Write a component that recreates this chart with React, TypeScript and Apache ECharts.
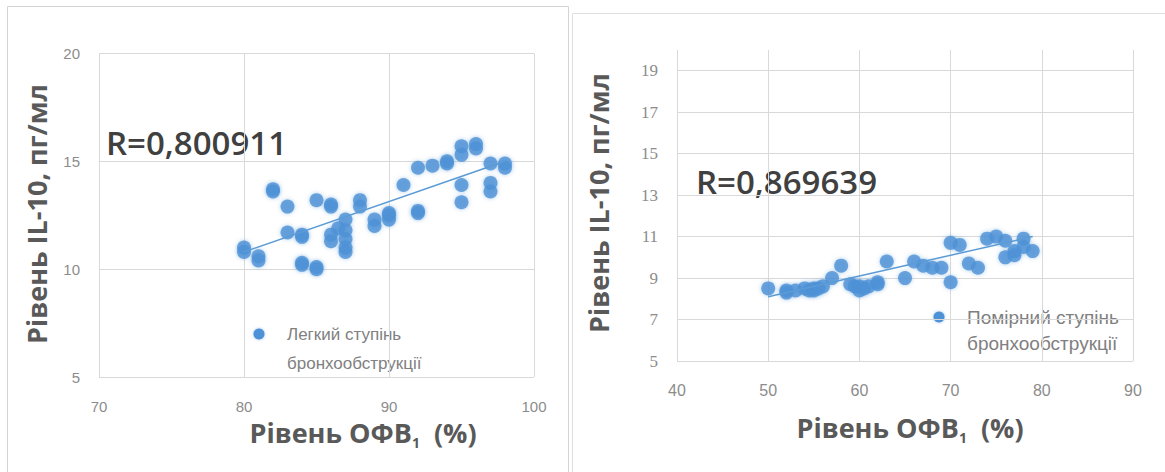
import React, { useEffect, useRef } from "react";
import * as echarts from "echarts";

// Mild bronchial obstruction: FEV1 (%) and IL-10 (pg/ml)
const mildFev1 = [80, 80, 81, 81, 82, 82, 83, 83, 84, 84, 84, 84, 85, 85, 85, 86, 86, 86, 86, 86.5, 87, 87, 87, 87, 87, 88, 88, 89, 89, 90, 90, 90, 91, 92, 92, 92, 93, 94, 94, 95, 95, 95, 95, 96, 96, 97, 97, 97, 98, 98];
const mildIl10 = [11.0, 10.8, 10.6, 10.4, 13.7, 13.6, 12.9, 11.7, 11.5, 11.6, 10.3, 10.2, 10.1, 10.0, 13.2, 13.0, 12.9, 11.6, 11.3, 11.9, 12.3, 11.8, 11.4, 11.0, 10.8, 13.2, 12.9, 12.0, 12.3, 12.6, 12.3, 12.5, 13.9, 12.7, 12.6, 14.7, 14.8, 15.0, 14.9, 15.3, 15.7, 13.9, 13.1, 15.8, 15.6, 14.9, 14.0, 13.6, 14.7, 14.9];
const mildTrendX = [80, 98];
const mildTrendY = [10.8, 15.0];

// Moderate bronchial obstruction
const moderateFev1 = [50, 52, 52, 53, 54, 54.5, 55, 55, 55.5, 56, 57, 58, 59, 59.5, 60, 60, 60.5, 61, 62, 62, 63, 65, 66, 67, 68, 69, 70, 70, 71, 72, 73, 74, 75, 76, 76, 77, 77, 78, 78, 79];
const moderateIl10 = [8.5, 8.4, 8.3, 8.4, 8.5, 8.4, 8.4, 8.5, 8.5, 8.6, 9.0, 9.6, 8.7, 8.6, 8.4, 8.6, 8.5, 8.6, 8.7, 8.8, 9.8, 9.0, 9.8, 9.6, 9.5, 9.5, 8.8, 10.7, 10.6, 9.7, 9.5, 10.9, 11.0, 10.8, 10.0, 10.1, 10.3, 10.9, 10.5, 10.3];
const moderateTrendX = [50, 79];
const moderateTrendY = [8.1, 11.0];

const mildName = "Легкий ступінь бронхообструкції";
const moderateName = "Помірний ступінь бронхообструкції";
const mildR = "R=0,800911";
const moderateR = "R=0,869639";
const yTitle = "Рівень IL-10, пг/мл";

const zip = (xs: number[], ys: number[]) => xs.map((x, i) => [x, ys[i]]);

const DOT = "#4e91d6";
const GRID = "#d9d9d9";
const TICK = "#8c8c8c";
const TITLE = "#595959";

function scatter(name: string, xs: number[], ys: number[], idx: number) {
  return {
    name,
    type: "scatter",
    xAxisIndex: idx,
    yAxisIndex: idx,
    data: zip(xs, ys),
    symbolSize: 14,
    itemStyle: { color: DOT, shadowBlur: 4, shadowColor: "rgba(78,145,214,0.55)" },
    z: 3,
  };
}

function trend(xs: number[], ys: number[], idx: number) {
  return {
    type: "line",
    xAxisIndex: idx,
    yAxisIndex: idx,
    data: zip(xs, ys),
    symbol: "none",
    lineStyle: { color: "#5b9bd5", width: 1.5 },
    z: 4,
  };
}

function xTitle(cx: number, cy: number) {
  return {
    type: "text",
    x: cx,
    y: cy,
    style: {
      text: "{a|Рівень ОФВ}{s|1}{a|  (%)}",
      align: "center",
      verticalAlign: "middle",
      rich: {
        a: { fontFamily: "Open Sans", fontWeight: "bold", fontSize: 27, lineHeight: 34, fill: TITLE },
        s: { fontFamily: "Open Sans", fontWeight: "bold", fontSize: 14, lineHeight: 14, verticalAlign: "bottom", fill: TITLE },
      },
    },
  };
}

function legendItem(cx: number, cy: number, lines: string[], gap: number, size: number) {
  return [
    { type: "circle", shape: { cx, cy, r: 5.5 }, style: { fill: DOT, shadowBlur: 3, shadowColor: "rgba(78,145,214,0.5)" } },
    ...lines.map((t, i) => ({
      type: "text",
      x: cx + 28,
      y: cy + i * gap,
      style: { text: t, fontFamily: "Liberation Sans", fontSize: size, fill: "#808080", verticalAlign: "middle" },
    })),
  ];
}

export default function App() {
  const ref = useRef<HTMLDivElement>(null);

  useEffect(() => {
    if (!ref.current) return;
    const chart = echarts.init(ref.current, undefined, { renderer: "svg" });

    const tickLabel = { color: TICK, fontSize: 15, fontFamily: "Liberation Sans" };

    chart.setOption({
      animation: false,
      backgroundColor: "#ffffff",
      grid: [
        { left: 99, top: 53.5, width: 435, height: 323.5 },
        { left: 677, top: 50, width: 456, height: 311 },
      ],
      xAxis: [
        {
          gridIndex: 0, type: "value", min: 70, max: 100, interval: 10,
          axisLine: { show: false }, axisTick: { show: false },
          axisLabel: { ...tickLabel, margin: 22 },
          splitLine: { lineStyle: { color: GRID, width: 1 } },
        },
        {
          gridIndex: 1, type: "value", min: 40, max: 90, interval: 10,
          axisLine: { show: false }, axisTick: { show: false },
          axisLabel: { ...tickLabel, fontSize: 16, margin: 21 },
          splitLine: { lineStyle: { color: GRID, width: 1 } },
        },
      ],
      yAxis: [
        {
          gridIndex: 0, type: "value", min: 5, max: 20, interval: 5,
          axisLine: { show: false }, axisTick: { show: false },
          axisLabel: { ...tickLabel, margin: 19 },
          splitLine: { lineStyle: { color: GRID, width: 1 } },
        },
        {
          gridIndex: 1, type: "value", min: 5, max: 20, interval: 2,
          axisLine: { show: false }, axisTick: { show: false },
          axisLabel: { ...tickLabel, fontFamily: "Liberation Serif", fontSize: 17, margin: 19, showMaxLabel: false },
          splitLine: { showMaxLine: false, lineStyle: { color: GRID, width: 1 } },
        },
      ],
      series: [
        scatter(mildName, mildFev1, mildIl10, 0),
        trend(mildTrendX, mildTrendY, 0),
        scatter(moderateName, moderateFev1, moderateIl10, 1),
        trend(moderateTrendX, moderateTrendY, 1),
      ],
      graphic: [
        // panel frames
        { type: "rect", shape: { x: 7.5, y: 6.5, width: 561, height: 480 }, style: { fill: "none", stroke: "#d4d4d4", lineWidth: 1 }, silent: true },
        { type: "rect", shape: { x: 572.5, y: 13.5, width: 600, height: 480 }, style: { fill: "none", stroke: "#e0e0e0", lineWidth: 1 }, silent: true },
        // correlation labels
        { type: "text", x: 106, y: 142, style: { text: mildR, fontFamily: "Open Sans", fontWeight: 600, fontSize: 33, fill: "#404040", verticalAlign: "middle" } },
        { type: "text", x: 696, y: 181, style: { text: moderateR, fontFamily: "Open Sans", fontWeight: 600, fontSize: 33, fill: "#404040", verticalAlign: "middle" } },
        // y-axis titles
        { type: "text", x: 36, y: 214, rotation: Math.PI / 2, style: { text: yTitle, fontFamily: "Open Sans", fontWeight: "bold", fontSize: 27, fill: TITLE, align: "center", verticalAlign: "middle" } },
        { type: "text", x: 598, y: 203, rotation: Math.PI / 2, style: { text: yTitle, fontFamily: "Open Sans", fontWeight: "bold", fontSize: 27, fill: TITLE, align: "center", verticalAlign: "middle" } },
        // x-axis titles
        xTitle(363, 432),
        xTitle(910, 427),
        // legends
        ...legendItem(259, 334, ["Легкий ступінь", "бронхообструкції"], 29, 17),
        ...legendItem(939, 317, ["Помірний ступінь", "бронхообструкції"], 26, 19),
      ],
    });

    return () => chart.dispose();
  }, []);

  return <div ref={ref} style={{ position: "fixed", left: 0, top: 0, width: 1165, height: 472 }} />;
}
